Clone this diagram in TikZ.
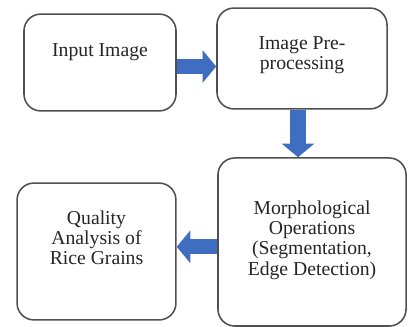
\documentclass[tikz,border=0pt]{standalone}
\usepackage{fontspec}
\setmainfont{Liberation Serif}
\usetikzlibrary{arrows.meta,positioning}
\definecolor{arrowblue}{HTML}{3F6DBF}
\definecolor{boxgray}{HTML}{505050}
\begin{document}
\begin{tikzpicture}[x=.025cm,y=-.025cm,
 box/.style={draw=boxgray,line width=1.1pt,rounded corners=.42cm,fill=white},
 txt/.style={align=center,text=black!85,font=\fontsize{14}{14.4}\selectfont},
 fat/.style={draw=arrowblue,line width=.38cm,-{Triangle[length=.34cm,width=.8cm]}}]
 \useasboundingbox (0,0) rectangle (408,327);
 \node[box,minimum width=3.8cm,minimum height=2.42cm] (inbox) at (100,62.5) {};
 \node[box,minimum width=4.25cm,minimum height=2.52cm] (prebox) at (302,58.5) {};
 \node[box,minimum width=4.7cm,minimum height=4.2cm] (morph) at (312,242) {};
 \node[box,minimum width=3.97cm,minimum height=3.42cm] (qual) at (96.5,251.5) {};
 \node[txt] (intxt) at (100,52) {Input Image};
 \node[txt] (pretxt) at (302,55) {Image Pre-\\processing};
 \node[txt] (morphtxt) at (312,240) {Morphological\\Operations\\(Segmentation,\\Edge Detection)};
 \node[txt] (qualtxt) at (96.5,238) {Quality\\Analysis of\\Rice Grains};
 \draw[fat] ([yshift=-.1cm]inbox.east) -- ([yshift=-.1cm]inbox.east -| prebox.west);
 \draw[fat] ([xshift=-.1cm]prebox.south) -- ([xshift=-.1cm]prebox.south |- morph.north);
 \draw[fat] ([yshift=-.12cm]morph.west) -- ([yshift=-.12cm]morph.west -| qual.east);
\end{tikzpicture}
\end{document}
